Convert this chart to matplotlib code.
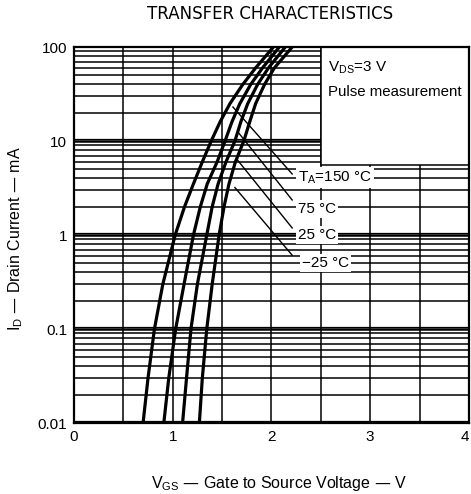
import matplotlib
matplotlib.use("Agg")
import matplotlib.pyplot as plt
from matplotlib.patches import Rectangle
import numpy as np

plt.rcParams['font.family'] = ['Liberation Sans', 'DejaVu Sans']
plt.rcParams['mathtext.default'] = 'regular'

# ---- data ----
drain_current_mA = [0.01, 0.03, 0.1, 0.3, 1, 2, 3.5, 6, 10, 16, 25, 40, 60, 100]
vgs_150C = [0.70, 0.75, 0.815, 0.90, 1.025, 1.12, 1.21, 1.30, 1.39, 1.48, 1.58, 1.71, 1.84, 2.02]
vgs_75C = [0.91, 0.96, 1.03, 1.115, 1.21, 1.28, 1.35, 1.45, 1.53, 1.60, 1.68, 1.79, 1.91, 2.08]
vgs_25C = [1.10, 1.14, 1.185, 1.25, 1.345, 1.40, 1.46, 1.54, 1.63, 1.69, 1.76, 1.86, 1.97, 2.14]
vgs_m25C = [1.27, 1.30, 1.345, 1.40, 1.47, 1.52, 1.57, 1.635, 1.72, 1.78, 1.84, 1.93, 2.03, 2.21]
series_labels = ["T$_{A}$=150 °C", "75 °C", "25 °C", "\u221225 °C"]
x_ticks = [0, 1, 2, 3, 4]
x_tick_labels = ["0", "1", "2", "3", "4"]
y_ticks = [0.01, 0.1, 1, 10, 100]
y_tick_labels = ["0.01", "0.1", "1", "10", "100"]

fig = plt.figure(figsize=(4.71, 4.94), dpi=100)
ax = fig.add_axes([0.157, 0.1437, 0.8386, 0.7611])
ax.set_xlim(0, 4)
ax.set_yscale('log')
ax.set_ylim(0.01, 100)

# grid
for xv in np.arange(0.5, 4.0, 0.5):
    ax.axvline(xv, color='black', lw=1.1, zorder=1)
for dec in [0.01, 0.1, 1, 10]:
    for m in range(1, 10):
        yv = dec * m
        if m == 1:
            ax.axhline(yv, color='black', lw=1.8, zorder=1)
            ax.axhline(yv * 1.06, color='black', lw=0.9, zorder=1)
        else:
            ax.axhline(yv, color='black', lw=1.1, zorder=1)

# condition box
ax.add_patch(Rectangle((2.5, 5.6), 1.5, 100 - 5.6, facecolor='white',
                       edgecolor='black', lw=1.1, zorder=2))
ax.text(2.57, 60, "V$_{DS}$=3 V", fontsize=11, va='center', ha='left', zorder=3)
ax.text(2.57, 33, "Pulse measurement", fontsize=10.8, va='center', ha='left', zorder=3)

# curves
for vg in [vgs_150C, vgs_75C, vgs_25C, vgs_m25C]:
    ax.plot(vg, drain_current_mA, color='black', lw=2.3, zorder=4,
            solid_capstyle='butt', solid_joinstyle='round', clip_on=True)

# labels with leader lines
label_pos = [(2.27, 4.1), (2.27, 1.9), (2.27, 1.0), (2.31, 0.5)]
leader_lo = [(2.21, 4.46), (2.21, 2.36), (2.21, 1.19), (2.21, 0.61)]
leader_hi = [(1.61, 23), (1.66, 12.5), (1.65, 6.4), (1.63, 3.2)]
for lab, pos, lo, hi in zip(series_labels, label_pos, leader_lo, leader_hi):
    ax.plot([lo[0], hi[0]], [lo[1], hi[1]], color='black', lw=1.0, zorder=3)
    ax.text(pos[0], pos[1], lab, fontsize=11, va='center', ha='left', zorder=5,
            bbox=dict(facecolor='white', edgecolor='none', pad=1.5))

# axes styling
for s in ax.spines.values():
    s.set_linewidth(1.6)
    s.set_zorder(6)
ax.set_xticks(x_ticks)
ax.set_xticklabels(x_tick_labels, fontsize=11)
ax.get_xticklabels()[-1].set_horizontalalignment('right')
ax.set_yticks(y_ticks)
ax.set_yticklabels(y_tick_labels, fontsize=11)
ax.yaxis.set_minor_locator(matplotlib.ticker.NullLocator())
ax.tick_params(axis='both', which='both', length=0, pad=5)

ax.set_xlabel("V$_{GS}$ \u2014 Gate to Source Voltage \u2014 V", fontsize=11.5)
ax.xaxis.set_label_coords(0.52, -0.135)
ax.set_ylabel("I$_{D}$ \u2014 Drain Current \u2014 mA", fontsize=11.5)
ax.yaxis.set_label_coords(-0.125, 0.49)
fig.text(0.573, 0.972, "TRANSFER CHARACTERISTICS", fontsize=12, ha='center',
         va='center', family='DejaVu Sans')

fig.savefig("out.png", dpi=100)
